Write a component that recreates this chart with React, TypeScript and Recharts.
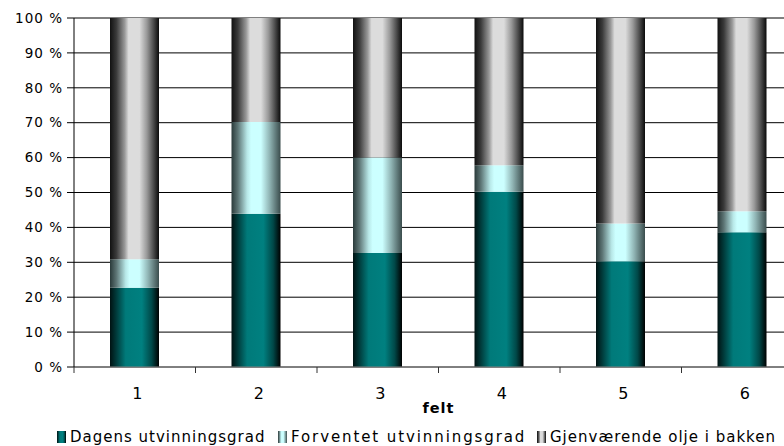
import { BarChart, Bar, XAxis, YAxis, CartesianGrid, Label } from "recharts";

// felt 1-6, andel av opprinnelig olje (prosent)
const felt = ["1", "2", "3", "4", "5", "6"];
const dagens = [22.7, 43.9, 32.7, 50.2, 30.3, 38.6];
const forventet = [8.2, 26.3, 27.3, 7.6, 10.8, 6.0];
const gjenvaerende = [69.1, 29.8, 40.0, 42.2, 58.9, 55.4];
const yTicks = [0, 10, 20, 30, 40, 50, 60, 70, 80, 90, 100];

const series = [
	{ key: "dagens", name: "Dagens utvinningsgrad", grad: "gradTeal" },
	{ key: "forventet", name: "Forventet utvinningsgrad", grad: "gradCyan" },
	{ key: "gjenvaerende", name: "Gjenværende olje i bakken", grad: "gradGrey" },
];

const data = felt.map((f, i) => ({
	felt: f,
	dagens: dagens[i],
	forventet: forventet[i],
	gjenvaerende: gjenvaerende[i],
}));

const W = 810;
const H = 446;
const MARGIN = { top: 18, right: 7, left: 0, bottom: 29 };
const Y_W = 74;
const BAND = (W - MARGIN.left - MARGIN.right - Y_W) / felt.length;
const FONT = "'DejaVu Sans', Verdana, sans-serif";

const XTick = (props: any) => {
	const { x, y, payload } = props;
	const bx = x - BAND / 2;
	return (
		<g>
			<line x1={bx} x2={bx} y1={y} y2={y + 6} stroke="#333" />
			<text
				x={x + 3}
				y={y + 32}
				textAnchor="middle"
				fill="#000"
				style={{ fontFamily: FONT, fontSize: 16, letterSpacing: 1 }}
			>
				{payload.value}
			</text>
		</g>
	);
};

const legendWidths = [221, 259, 240];
const legendSpacing = [1, 1.9, 1];

export default function App() {
	return (
		<div
			style={{
				position: "absolute",
				left: 0,
				top: 0,
				width: 784,
				height: 446,
				overflow: "hidden",
				background: "#fff",
			}}
		>
			<BarChart width={W} height={H} data={data} margin={MARGIN} barSize={49}>
				<defs>
					<linearGradient id="gradGrey" x1="0" y1="0" x2="1" y2="0">
						<stop offset="0" stopColor="#111" />
						<stop offset="0.13" stopColor="#3a3a3a" />
						<stop offset="0.3" stopColor="#999" />
						<stop offset="0.38" stopColor="#dcdcdc" />
						<stop offset="0.6" stopColor="#dcdcdc" />
						<stop offset="0.75" stopColor="#9a9a9a" />
						<stop offset="0.88" stopColor="#505050" />
						<stop offset="1" stopColor="#0a0a0a" />
					</linearGradient>
					<linearGradient id="gradTeal" x1="0" y1="0" x2="1" y2="0">
						<stop offset="0" stopColor="#001212" />
						<stop offset="0.12" stopColor="#003838" />
						<stop offset="0.32" stopColor="#007a7a" />
						<stop offset="0.65" stopColor="#008080" />
						<stop offset="0.85" stopColor="#004848" />
						<stop offset="1" stopColor="#000" />
					</linearGradient>
					<linearGradient id="gradCyan" x1="0" y1="0" x2="1" y2="0">
						<stop offset="0" stopColor="#2a3a3a" />
						<stop offset="0.13" stopColor="#5d7575" />
						<stop offset="0.32" stopColor="#b8e8e8" />
						<stop offset="0.4" stopColor="#ccffff" />
						<stop offset="0.6" stopColor="#ccffff" />
						<stop offset="0.78" stopColor="#8fb3b3" />
						<stop offset="1" stopColor="#3a4c4c" />
					</linearGradient>
				</defs>
				<CartesianGrid vertical={false} stroke="#000" />
				<XAxis
					dataKey="felt"
					height={50}
					tick={<XTick />}
					tickLine={false}
					tickSize={0}
					tickMargin={0}
					axisLine={{ stroke: "#808080" }}
				>
					<Label
						value="felt"
						position="insideBottom"
						offset={4}
						style={{ fontFamily: FONT, fontSize: 14.5, fontWeight: "bold", letterSpacing: 1, fill: "#000" }}
					/>
				</XAxis>
				<YAxis
					width={Y_W}
					domain={[0, 100]}
					ticks={yTicks}
					interval={0}
					tickFormatter={(v) => `${v} %`}
					tickSize={7}
					tickMargin={4}
					tickLine={{ stroke: "#000" }}
					axisLine={{ stroke: "#000" }}
					tick={{ fill: "#000", fontFamily: FONT, fontSize: 13.5, letterSpacing: 1 }}
				/>
				{series.map((s) => (
					<Bar
						key={s.key}
						dataKey={s.key}
						name={s.name}
						stackId="a"
						fill={`url(#${s.grad})`}
						isAnimationActive={false}
					/>
				))}
			</BarChart>
			<div
				style={{
					position: "absolute",
					left: 57,
					top: 428,
					height: 18,
					display: "flex",
					alignItems: "center",
					fontFamily: FONT,
					fontSize: 15,
					lineHeight: "18px",
					color: "#000",
					whiteSpace: "nowrap",
				}}
			>
				{series.map((s, i) => (
					<div
						key={s.key}
						style={{ display: "flex", alignItems: "center", width: legendWidths[i], letterSpacing: legendSpacing[i] }}
					>
						<svg width={9} height={12} style={{ marginRight: 4 }}>
							<rect x={0} y={0} width={9} height={12} fill={`url(#${s.grad})`} />
						</svg>
						<span>{s.name}</span>
					</div>
				))}
			</div>
		</div>
	);
}
